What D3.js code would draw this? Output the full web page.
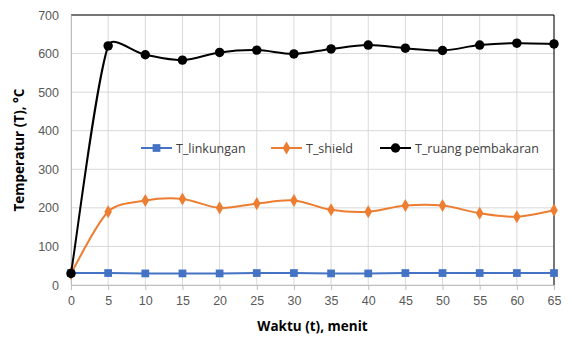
<!DOCTYPE html>
<html lang="en">
<head>
    <meta charset="UTF-8">
    <title>Temperatur vs Waktu</title>
    <script src="https://d3js.org/d3.v7.min.js"></script>
    <style>
        body { margin: 0; background: #fff; }
        svg { font-family: 'Open Sans', sans-serif; }
        .tick text { fill: #595959; font-size: 12.5px; }
        .legend text { fill: #404040; font-size: 12.5px; }
    </style>
</head>
<body>
    <script>
        // data
        const waktu = [0, 5, 10, 15, 20, 25, 30, 35, 40, 45, 50, 55, 60, 65];
        const tLinkungan = [31, 31, 30, 30, 30, 31, 31, 30, 30, 31, 31, 31, 31, 31];
        const tShield = [30, 190, 219, 223, 200, 211, 219, 195, 190, 206, 206, 186, 177, 194];
        const tRuang = [30, 620, 597, 583, 603, 609, 599, 612, 622, 614, 608, 622, 627, 625];
        const yTicks = [0, 100, 200, 300, 400, 500, 600, 700];
        const xTicks = d3.range(0, 70, 5);

        const margin = {top: 15, right: 17, bottom: 53, left: 71};
        const W = 571, H = 338;
        const width = W - margin.left - margin.right;
        const height = H - margin.top - margin.bottom;

        const svg = d3.select('body').append('svg')
            .attr('width', W)
            .attr('height', H);

        const g = svg.append('g')
            .attr('transform', `translate(${margin.left},${margin.top})`);

        const x = d3.scaleLinear().domain([0, 65]).range([0, width]);
        const y = d3.scaleLinear().domain([0, 700]).range([height, 0]);

        // gridlines
        g.selectAll('.vgrid').data(xTicks).enter().append('line')
            .attr('x1', d => x(d)).attr('x2', d => x(d))
            .attr('y1', 0).attr('y2', height)
            .attr('stroke', '#d9d9d9');
        g.selectAll('.hgrid').data(yTicks).enter().append('line')
            .attr('x1', 0).attr('x2', width)
            .attr('y1', d => y(d)).attr('y2', d => y(d))
            .attr('stroke', '#d9d9d9');

        // frame: top and right in black, left and bottom gray
        g.append('line').attr('x1', 0).attr('x2', width).attr('y1', 0).attr('y2', 0).attr('stroke', '#000');
        g.append('line').attr('x1', width).attr('x2', width).attr('y1', 0).attr('y2', height).attr('stroke', '#000');

        const xAxis = g.append('g')
            .attr('transform', `translate(0,${height})`)
            .call(d3.axisBottom(x).tickValues(xTicks).tickSize(5).tickPadding(6));
        xAxis.select('.domain').attr('stroke', '#bfbfbf');
        xAxis.selectAll('.tick line').attr('stroke', '#bfbfbf');

        const yAxis = g.append('g')
            .call(d3.axisLeft(y).tickValues(yTicks).tickSize(0).tickPadding(12));
        yAxis.select('.domain').attr('stroke', '#bfbfbf');

        // axis titles
        svg.append('text')
            .attr('x', margin.left + width / 2)
            .attr('y', 331)
            .attr('text-anchor', 'middle')
            .attr('font-weight', 'bold')
            .attr('font-size', 13.5)
            .attr('fill', '#000')
            .text('Waktu (t), menit');

        svg.append('text')
            .attr('transform', `translate(24,${margin.top + height / 2}) rotate(-90)`)
            .attr('text-anchor', 'middle')
            .attr('font-weight', 'bold')
            .attr('font-size', 13.5)
            .attr('fill', '#000')
            .text('Temperatur (T), °C');

        const series = [
            {name: 'T_linkungan', values: tLinkungan, color: '#4472c4', marker: d3.symbolSquare, size: 60},
            {name: 'T_shield', values: tShield, color: '#ed7d31', marker: d3.symbolDiamond, size: 50},
            {name: 'T_ruang pembakaran', values: tRuang, color: '#000000', marker: d3.symbolCircle, size: 70}
        ];

        // spreadsheet-style smoothed line: bezier with catmull-rom tangents,
        // arm length capped to a third of the adjacent segment
        function smoothPath(pts) {
            const p = d3.path();
            const n = pts.length;
            const arm = (i, dir) => {
                const a = pts[Math.max(i - 1, 0)], b = pts[Math.min(i + 1, n - 1)];
                let dx = (b[0] - a[0]) / 6, dy = (b[1] - a[1]) / 6;
                const nb = pts[i + dir];
                const seg = Math.hypot(nb[0] - pts[i][0], nb[1] - pts[i][1]);
                const len = Math.hypot(dx, dy);
                const cap = seg / 3;
                if (len > cap) { dx *= cap / len; dy *= cap / len; }
                return [dx * dir, dy * dir];
            };
            p.moveTo(pts[0][0], pts[0][1]);
            for (let i = 0; i < n - 1; i++) {
                const a1 = arm(i, 1), a2 = arm(i + 1, -1);
                p.bezierCurveTo(pts[i][0] + a1[0], pts[i][1] + a1[1],
                    pts[i + 1][0] + a2[0], pts[i + 1][1] + a2[1],
                    pts[i + 1][0], pts[i + 1][1]);
            }
            return p.toString();
        }

        series.forEach(s => {
            const pts = s.values.map((d, i) => [x(waktu[i]), y(d)]);
            g.append('path')
                .attr('fill', 'none')
                .attr('stroke', s.color)
                .attr('stroke-width', 2)
                .attr('d', smoothPath(pts));
            g.selectAll(null).data(s.values).enter().append('path')
                .attr('transform', (d, i) => `translate(${x(waktu[i])},${y(d)})`)
                .attr('d', d3.symbol().type(s.marker).size(s.size))
                .attr('fill', s.color);
        });

        // legend inside plot
        const legendX = [141, 271, 380];
        const legend = svg.append('g').attr('class', 'legend');
        series.forEach((s, i) => {
            const lg = legend.append('g').attr('transform', `translate(${legendX[i]},148)`);
            lg.append('line').attr('x1', 0).attr('x2', 31).attr('stroke', s.color).attr('stroke-width', 2);
            lg.append('path').attr('transform', 'translate(15.5,0)')
                .attr('d', d3.symbol().type(s.marker).size(s.size)).attr('fill', s.color);
            lg.append('text').attr('x', 35).attr('y', 4.5).text(s.name);
        });
    </script>
</body>
</html>
